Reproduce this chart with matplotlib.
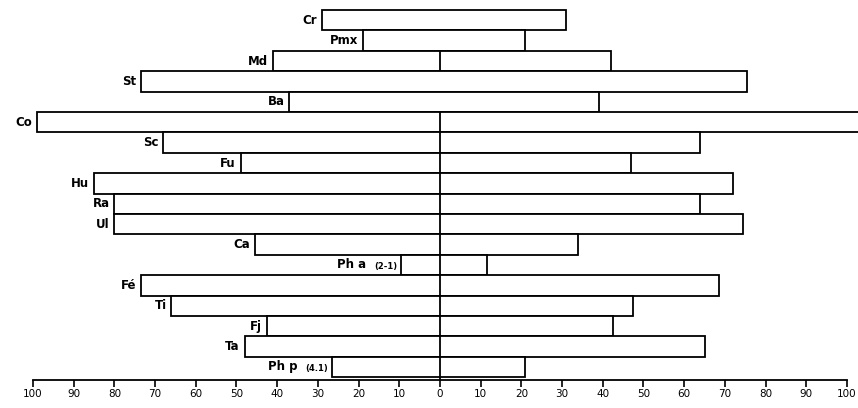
import numpy as np
import matplotlib.pyplot as plt

# rows from top to bottom; each bar runs from left value to right value
labels = ['Cr', 'Pmx', 'Md', 'St', 'Ba', 'Co', 'Sc', 'Fu', 'Hu', 'Ra', 'Ul',
          'Ca', 'Ph a', 'Fé', 'Ti', 'Fj', 'Ta', 'Ph p']
sublabels = {'Ph a': '(2-1)', 'Ph p': '(4.1)'}
left_vals = [-29, -19, -41, -73.5, -37, -99, -68, -49, -85, -80, -80,
             -45.5, -9.5, -73.5, -66, -42.5, -48, -26.5]
right_vals = [31, 21, 42, 75.5, 39, 104, 64, 47, 72, 64, 74.5,
              34, 11.5, 68.5, 47.5, 42.5, 65, 21]
tick_vals = np.arange(-100, 101, 10)

W, H = 858, 408
fig = plt.figure(figsize=(W / 100, H / 100), dpi=100)
# axes: bottom spine is the scale line, rows are 20.4 px high
row_px = 20.4
ax_bottom_px = 380
ax = fig.add_axes([0, (H - ax_bottom_px) / H, 1, ax_bottom_px / H])

px_per_unit = 814 / 200
ax.set_xlim(-100 - 33 / px_per_unit, 100 + (W - 847) / px_per_unit)
ymin = -10 / row_px
ax.set_ylim(ymin + ax_bottom_px / row_px, ymin)

n = len(labels)
y = np.arange(n) + 0.5
left = np.array(left_vals)
right = np.array(right_vals)
ax.barh(y, right - left, left=left, height=1.0, color='white',
        edgecolor='black', linewidth=1.3, zorder=2)

# central zero line (missing across the St and Ba rows)
ax.vlines(0, 2, 3, color='black', lw=1.3, zorder=3)
ax.vlines(0, 5, ymin + ax_bottom_px / row_px, color='black', lw=1.3, zorder=3)

for yi, lab, lv in zip(y, labels, left):
    if lab in sublabels:
        ax.annotate(sublabels[lab], xy=(lv, yi), xytext=(-3, -1),
                    textcoords='offset points', ha='right', va='center',
                    fontsize=6, fontweight='bold')
        ax.annotate(lab, xy=(lv, yi), xytext=(-25, 0),
                    textcoords='offset points', ha='right', va='center',
                    fontsize=8.5, fontweight='bold')
    else:
        ax.annotate(lab, xy=(lv, yi), xytext=(-3.5, 0),
                    textcoords='offset points', ha='right', va='center',
                    fontsize=8.5, fontweight='bold')

for s in ['top', 'left', 'right']:
    ax.spines[s].set_visible(False)
ax.spines['bottom'].set_bounds(-100, 100)
ax.spines['bottom'].set_linewidth(1.3)
ax.set_xticks(tick_vals)
ax.set_xticklabels([str(abs(t)) for t in tick_vals], fontsize=7.5)
ax.tick_params(axis='x', direction='out', length=5, width=1.2, pad=1.5)
ax.set_yticks([])
ax.patch.set_visible(False)

fig.savefig('out.png', dpi=100)
